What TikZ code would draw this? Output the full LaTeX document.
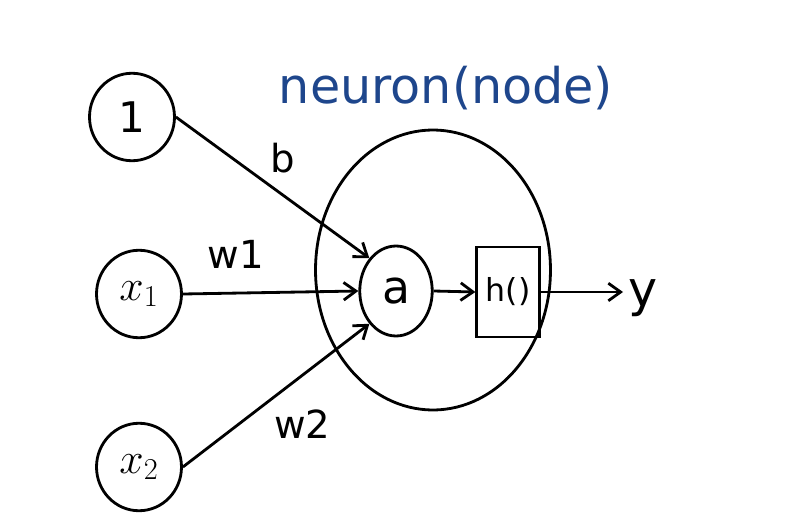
\documentclass[tikz,border=0pt]{standalone}
\usepackage{fontspec}
\setmainfont{DejaVu Sans}
\usetikzlibrary{shapes.geometric,arrows.meta,calc}
\definecolor{inkblue}{RGB}{30,70,140}
\begin{document}
\begin{tikzpicture}[x=0.02cm,y=-0.02cm,
  line width=1.6pt,
  inp/.style={draw,ellipse,minimum width=1.7cm,minimum height=1.75cm,inner sep=0pt,font=\fontsize{24}{28}\selectfont},
  conn/.style={-{Straight Barb[length=7pt,width=10pt]}},
  lbl/.style={font=\fontsize{22}{26}\selectfont}]
\useasboundingbox (0,0) rectangle (789,531);
\node[inp] (one) at (132,117) {1};
\node[inp] (x1) at (139,294) {$x_1$};
\node[inp] (x2) at (139,467) {$x_2$};
\node[draw,ellipse,minimum width=4.7cm,minimum height=5.6cm,inner sep=0pt] (neuron) at (433,270) {};
\node[draw,ellipse,minimum width=1.45cm,minimum height=1.8cm,inner sep=0pt,font=\fontsize{26}{30}\selectfont] (a) at (396,291) {a};
\node[draw,rectangle,minimum width=1.25cm,minimum height=1.8cm,inner sep=0pt,font=\fontsize{18}{22}\selectfont] (h) at (508,292) {h()};
\node[font=\fontsize{28}{32}\selectfont,inner sep=0pt] (y) at (643,298) {y};
\node[font=\fontsize{28}{34}\selectfont,text=inkblue,inner sep=0pt] (title) at (446,88) {neuron(node)};
\draw[conn] (one.east) -- (a.north west) node[lbl,pos=0.45,above right] {b};
\draw[conn] (x1.east) -- (a.west) node[lbl,pos=0.3,above=10pt] {w1};
\draw[conn] (x2.east) -- (a.south west) node[lbl,pos=0.45,below right] {w2};
\draw[conn] (a.east) -- (h.west);
\draw[conn] (h.east) -- ($(h.east -| y.west)+(-4,0)$);
\end{tikzpicture}
\end{document}
